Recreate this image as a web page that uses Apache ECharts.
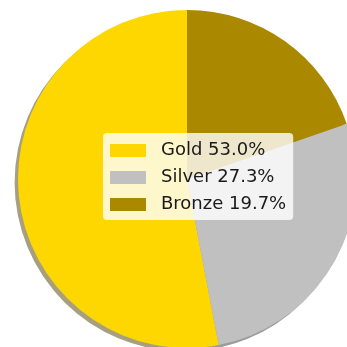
<!DOCTYPE html>
<html>
<head>
<meta charset="utf-8">
<script src="https://cdn.jsdelivr.net/npm/echarts@6/dist/echarts.min.js"></script>
<style>
  html, body { margin: 0; padding: 0; background: #fff; }
  #chart { width: 347px; height: 347px; }
</style>
</head>
<body>
<div id="chart"></div>
<script>
// Medal shares
const medals = ['Gold', 'Silver', 'Bronze'];
const shares = [53.0, 27.3, 19.7];
const sliceColors = ['#FFD700', '#C0C0C0', '#AA8800'];
const shadowColors = ['#a6a080', '#9c9c9c', '#999166'];

const total = shares.reduce((a, b) => a + b, 0);
const pctByName = {};
medals.forEach((m, i) => { pctByName[m] = (shares[i] / total * 100).toFixed(1); });

const chart = echarts.init(document.getElementById('chart'), null, { renderer: 'canvas' });

chart.setOption({
  animation: false,
  backgroundColor: '#ffffff',
  legend: {
    data: medals,
    orient: 'vertical',
    left: 103,
    top: 133,
    padding: [7, 7, 5, 7],
    itemGap: 6,
    itemWidth: 36,
    itemHeight: 13,
    icon: 'rect',
    backgroundColor: 'rgba(255,255,255,0.8)',
    borderRadius: 4,
    selectedMode: false,
    formatter: name => name + ' ' + pctByName[name] + '%',
    textStyle: {
      fontFamily: 'DejaVu Sans',
      fontSize: 18,
      lineHeight: 21,
      color: '#1a1a1a',
      padding: [0, 0, 0, 10]
    }
  },
  series: [
    {
      name: 'shadow',
      type: 'pie',
      silent: true,
      z: 1,
      center: [183.6, 182.4],
      radius: 169,
      startAngle: 90,
      clockwise: false,
      label: { show: false },
      labelLine: { show: false },
      itemStyle: { borderWidth: 0 },
      data: medals.map((m, i) => ({
        name: 'shadow-' + m,
        value: shares[i],
        itemStyle: { color: shadowColors[i] }
      }))
    },
    {
      name: 'Medals',
      type: 'pie',
      z: 2,
      center: [187, 179],
      radius: 169,
      startAngle: 90,
      clockwise: false,
      label: { show: false },
      labelLine: { show: false },
      emphasis: { disabled: true },
      itemStyle: { borderWidth: 0 },
      data: medals.map((m, i) => ({
        name: m,
        value: shares[i],
        itemStyle: { color: sliceColors[i] }
      }))
    }
  ]
});
</script>
</body>
</html>
